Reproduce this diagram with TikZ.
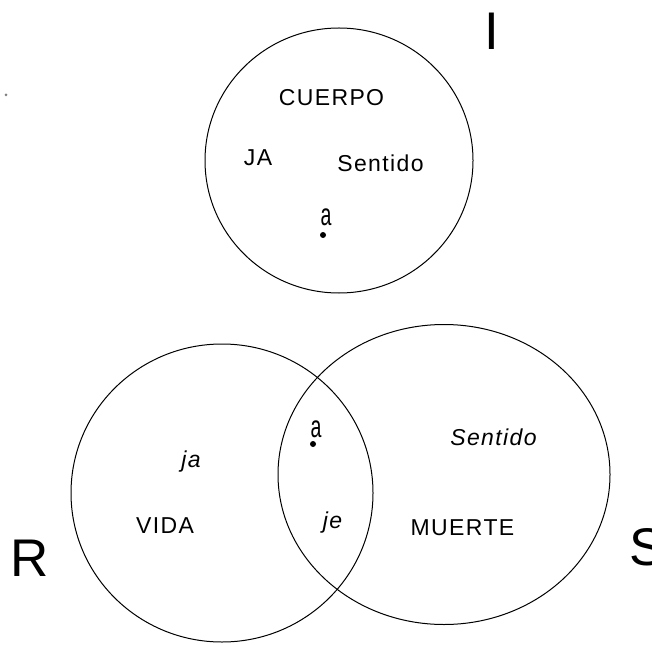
\documentclass[tikz,border=0pt]{standalone}
\usepackage{fontspec}
\setmainfont{Liberation Sans}[LetterSpace=6]
\begin{document}
\begin{tikzpicture}[x=1pt,y=-1pt,
  lbl/.style={inner sep=0pt,anchor=base,font=\fontsize{23}{23}\selectfont},
  ilbl/.style={inner sep=0pt,anchor=base,font=\fontsize{23}{23}\selectfont\itshape},
  big/.style={inner sep=0pt,anchor=base,font=\fontsize{53}{53}\selectfont},
  ring/.style={draw=black,line width=1pt},
  pt/.style={fill=black}]
\useasboundingbox (0,0) rectangle (652,644);
% circles
\draw[ring] (339,160.5) ellipse [x radius=134pt, y radius=132.5pt];
\draw[ring] (222,493) ellipse [x radius=151pt, y radius=149pt];
\draw[ring] (444,474.5) ellipse [x radius=166pt, y radius=150pt];
% big letters
\node[big] (I) at (491.5,50) {I};
\node[big] (R) at (29.5,576) {R};
\node[big,anchor=base west] (S) at (629,565) {S};
% top circle
\node[lbl] (cuerpo) at (331.5,106) {CUERPO};
\node[lbl] (JA) at (258,166) {JA};
\node[lbl] (sent1) at (380.5,172) {Sentido};
\node[lbl] (a1) at (326,225) {\scalebox{0.85}[1.35]{a}};
\fill[pt] (323,235) circle [radius=3pt];
% lower circles
\node[ilbl] (ja) at (191,467) {ja};
\node[lbl] (vida) at (165,533) {VIDA};
\node[ilbl] (je) at (332.5,528) {je};
\node[lbl] (a2) at (316,437) {\scalebox{0.85}[1.35]{a}};
\fill[pt] (313,444) circle [radius=3pt];
\node[ilbl] (sent2) at (493.5,445) {Sentido};
\node[lbl] (muerte) at (462.5,535) {MUERTE};
% stray speck
\fill[gray] (6,95) circle [radius=1.5pt];
\end{tikzpicture}
\end{document}
